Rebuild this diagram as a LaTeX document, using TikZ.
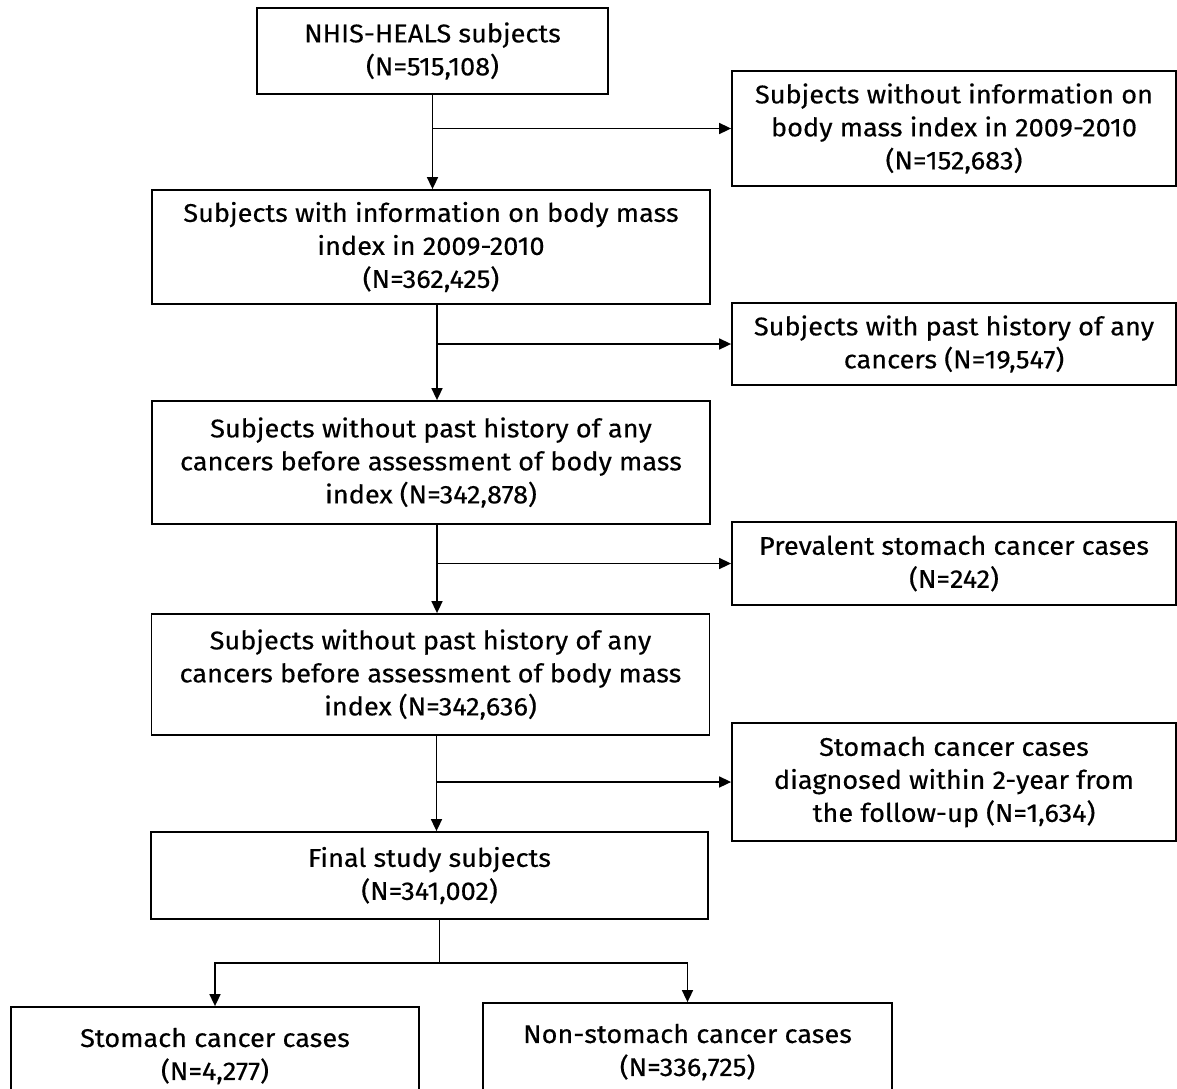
\documentclass[tikz,border=0pt]{standalone}
\usepackage{fontspec}
\setmainfont[Numbers=Lining, FakeStretch=1.06, FakeBold=0.4]{Fira Sans}
\usetikzlibrary{arrows.meta}

\tikzset{
  box/.style={draw, line width=0.9pt, align=center, inner sep=0pt,
    font=\fontsize{12.8}{16.5}\selectfont},
  mainbox/.style={box, minimum width=279pt},
  sidebox/.style={box, minimum width=222pt},
  arr/.style={line width=0.8pt, -{Triangle[length=6pt,width=5.5pt]}},
}

\begin{document}
\begin{tikzpicture}[x=0.5pt,y=-0.5pt]
    \useasboundingbox (0,0) rectangle (1177,1088);
    \clip (0,0) rectangle (1177,1088);

    \node[box, minimum width=175.5pt, minimum height=43pt] at (432.5,51) (all)
        {NHIS-HEALS subjects\\(N=515,108)};
    \node[sidebox, minimum height=57.5pt] at (954,128.5) (nobmi)
        {Subjects without information on\\body mass index in 2009-2010\\(N=152,683)};
    \node[mainbox, minimum height=57pt] at (431,247) (bmi)
        {Subjects with information on body mass\\index in 2009-2010\\(N=362,425)};
    \node[sidebox, minimum height=41pt] at (954,344) (hist)
        {Subjects with past history of any\\cancers (N=19,547)};
    \node[mainbox, minimum height=61.5pt] at (431,462.5) (nohist)
        {Subjects without past history of any\\cancers before assessment of body mass\\index (N=342,878)};
    \node[sidebox, minimum height=41.5pt] at (954,563.5) (prev)
        {Prevalent stomach cancer cases\\(N=242)};
    \node[mainbox, minimum height=60.5pt] at (430.5,674.5) (noprev)
        {Subjects without past history of any\\cancers before assessment of body mass\\index (N=342,636)};
    \node[sidebox, minimum height=59pt] at (954,782) (early)
        {Stomach cancer cases\\diagnosed within 2-year from\\the follow-up (N=1,634)};
    \node[mainbox, minimum width=278.5pt, minimum height=43.5pt] at (429.5,875.5) (final)
        {Final study subjects\\(N=341,002)};
    \node[box, minimum width=204pt, minimum height=49pt] at (215,1056) (stom)
        {Stomach cancer cases\\(N=4,277)};
    \node[box, minimum width=204.5pt, minimum height=49pt] at (687.5,1052) (nonstom)
        {Non-stomach cancer cases\\(N=336,725)};

    \draw[arr] (all.south) -- (all.south |- bmi.north);
    \draw[arr] (all.south |- nobmi.west) -- (nobmi.west);
    \draw[arr] ([xshift=3pt]bmi.south) -- ([xshift=3pt]bmi.south |- nohist.north);
    \draw[arr] ([xshift=3pt]bmi.south |- hist.west) -- (hist.west);
    \draw[arr] ([xshift=3pt]nohist.south) -- ([xshift=3pt]nohist.south |- noprev.north);
    \draw[arr] ([xshift=3pt]nohist.south |- prev.west) -- (prev.west);
    \draw[arr] ([xshift=3pt]noprev.south) -- ([xshift=3pt]noprev.south |- final.north);
    \draw[arr] ([xshift=3pt]noprev.south |- early.west) -- (early.west);

    \coordinate (fork) at ([xshift=5pt,yshift=-21.5pt]final.south);
    \draw[line width=0.8pt] ([xshift=5pt]final.south) -- (fork);
    \draw[arr] (fork) -| (stom.north);
    \draw[arr] (fork) -| (nonstom.north);
\end{tikzpicture}
\end{document}
